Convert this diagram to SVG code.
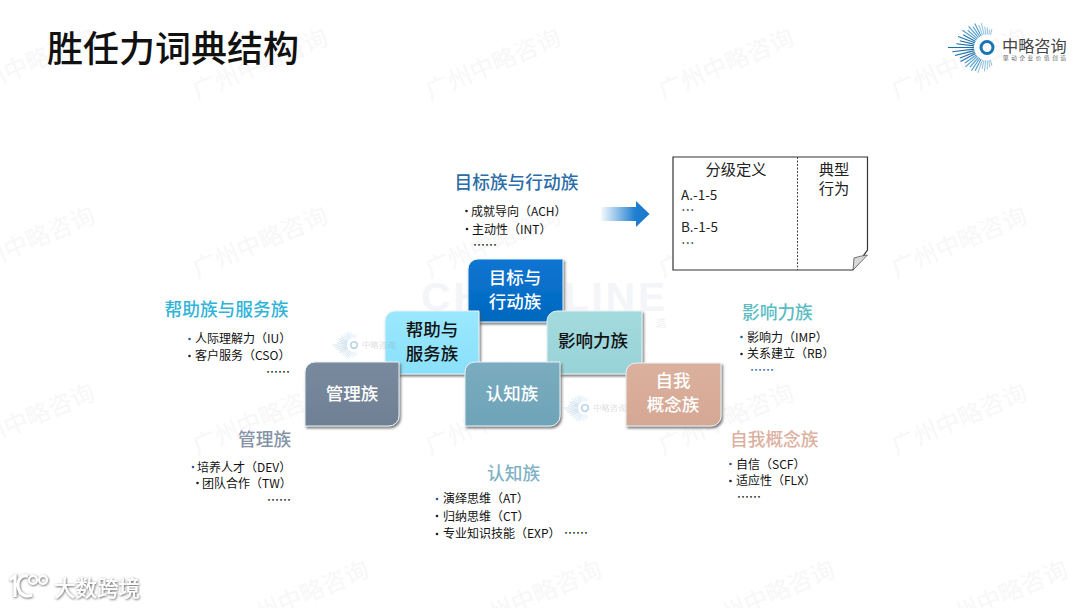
<svg xmlns="http://www.w3.org/2000/svg" xmlns:xlink="http://www.w3.org/1999/xlink" width="1080" height="608" viewBox="0 0 1080 608">
<style>
text{font-family:"Noto Sans CJK SC","Noto Sans",sans-serif}
.wm{font-size:24px;fill:#f7f7f8}
.h{font-size:17.7px;font-weight:500}
.i{font-size:12px;fill:#111}
.d{font-size:12px;fill:#222;font-weight:500}
.b{fill:#222}
.bb{fill:#2a5ba8}
.n{font-size:17.5px;font-weight:500;text-anchor:middle;filter:none}
.w{fill:#fff}
.k{fill:#111}
.box{stroke:#e8f2f6;stroke-width:1;filter:url(#sh)}
.t{font-size:15.3px;fill:#222;text-anchor:middle}
.a{font-size:13.500px;fill:#222}
.ray{stroke-width:1.1;stroke-linecap:butt}
.sm{font-size:8.400px;fill:#8a8f96}
</style>
<defs>
<filter id="sh" x="-10%" y="-10%" width="125%" height="125%"><feDropShadow dx="1.5" dy="2" stdDeviation="1" flood-color="#555" flood-opacity=".75"/></filter>
<filter id="ts" x="-10%" y="-20%" width="120%" height="150%"><feDropShadow dx="0.6" dy="0.8" stdDeviation="0.8" flood-color="#555" flood-opacity="1"/></filter>
<linearGradient id="ar" x1="0" x2="1" y1="0" y2="0"><stop offset="0" stop-color="#2a86d4" stop-opacity=".05"/><stop offset=".7" stop-color="#1f7fd0"/><stop offset="1" stop-color="#1a78c8"/></linearGradient>
<linearGradient id="g1" x1="0" x2="0" y1="0" y2="1"><stop offset="0" stop-color="#0a75d2"/><stop offset="1" stop-color="#0368bf"/></linearGradient>
<linearGradient id="g2" x1="0" x2="0" y1="0" y2="1"><stop offset="0" stop-color="#9ae8fe"/><stop offset="1" stop-color="#8ae0fa"/></linearGradient>
<linearGradient id="g3" x1="0" x2="0" y1="0" y2="1"><stop offset="0" stop-color="#a3dadd"/><stop offset="1" stop-color="#98d3d8"/></linearGradient>
<linearGradient id="g4" x1="0" x2="0" y1="0" y2="1"><stop offset="0" stop-color="#7a8a9e"/><stop offset="1" stop-color="#6f8094"/></linearGradient>
<linearGradient id="g5" x1="0" x2="0" y1="0" y2="1"><stop offset="0" stop-color="#7bacbf"/><stop offset="1" stop-color="#6ea3b8"/></linearGradient>
<linearGradient id="g6" x1="0" x2="0" y1="0" y2="1"><stop offset="0" stop-color="#dbb09e"/><stop offset="1" stop-color="#d4a893"/></linearGradient>
<g id="burst">
<g class="ray" stroke="#1d6fa8">
<line x1="-13" x2="-39" transform="rotate(0)"/><line x1="-13" x2="-31" transform="rotate(7)"/><line x1="-13" x2="-35" transform="rotate(-7)"/>
<line x1="-13" x2="-28" transform="rotate(14)"/><line x1="-13" x2="-33" transform="rotate(-14)"/><line x1="-13" x2="-31" transform="rotate(21)"/>
<line x1="-13" x2="-29" transform="rotate(-21)"/><line x1="-13" x2="-27" transform="rotate(28)"/><line x1="-13" x2="-30" transform="rotate(-28)"/>
</g>
<g class="ray" stroke="#4b9bcc">
<line x1="-13" x2="-30" transform="rotate(35)"/><line x1="-13" x2="-27" transform="rotate(-35)"/><line x1="-13" x2="-26" transform="rotate(42)"/>
<line x1="-13" x2="-29" transform="rotate(-42)"/><line x1="-13" x2="-28" transform="rotate(49)"/><line x1="-13" x2="-26" transform="rotate(-49)"/>
<line x1="-13" x2="-25" transform="rotate(56)"/><line x1="-13" x2="-28" transform="rotate(-56)"/><line x1="-13" x2="-27" transform="rotate(63)"/>
<line x1="-13" x2="-26" transform="rotate(-63)"/>
</g>
<g class="ray" stroke="#9cc6df">
<line x1="-13" x2="-24" transform="rotate(70)"/><line x1="-13" x2="-27" transform="rotate(-70)"/><line x1="-13" x2="-25" transform="rotate(77)"/>
<line x1="-13" x2="-22" transform="rotate(-77)"/><line x1="-13" x2="-21" transform="rotate(84)"/><line x1="-13" x2="-24" transform="rotate(-84)"/>
<line x1="-13" x2="-20" transform="rotate(91)"/><line x1="-13" x2="-22" transform="rotate(-91)"/><line x1="-13" x2="-18" transform="rotate(98)"/>
<line x1="-13" x2="-20" transform="rotate(-98)"/><line x1="-13" x2="-19" transform="rotate(105)"/><line x1="-13" x2="-19" transform="rotate(-105)"/>
</g>
<circle r="6" fill="none" stroke="#1874b4" stroke-width="3"/>
</g>
</defs>
<rect width="1080" height="608" fill="#fff"/>
<g id="watermarks">
<text class="wm" transform="translate(-36 100) rotate(-23)">广州中略咨询</text>
<text class="wm" transform="translate(197 100) rotate(-23)">广州中略咨询</text>
<text class="wm" transform="translate(430 100) rotate(-23)">广州中略咨询</text>
<text class="wm" transform="translate(663 100) rotate(-23)">广州中略咨询</text>
<text class="wm" transform="translate(896 100) rotate(-23)">广州中略咨询</text>
<text class="wm" transform="translate(-36 278) rotate(-23)">广州中略咨询</text>
<text class="wm" transform="translate(197 278) rotate(-23)">广州中略咨询</text>
<text class="wm" transform="translate(430 278) rotate(-23)">广州中略咨询</text>
<text class="wm" transform="translate(663 278) rotate(-23)">广州中略咨询</text>
<text class="wm" transform="translate(896 278) rotate(-23)">广州中略咨询</text>
<text class="wm" transform="translate(-36 455) rotate(-23)">广州中略咨询</text>
<text class="wm" transform="translate(197 455) rotate(-23)">广州中略咨询</text>
<text class="wm" transform="translate(430 455) rotate(-23)">广州中略咨询</text>
<text class="wm" transform="translate(663 455) rotate(-23)">广州中略咨询</text>
<text class="wm" transform="translate(896 455) rotate(-23)">广州中略咨询</text>
<text class="wm" transform="translate(238 632) rotate(-23)">广州中略咨询</text>
<text class="wm" transform="translate(471 632) rotate(-23)">广州中略咨询</text>
<text class="wm" transform="translate(704 632) rotate(-23)">广州中略咨询</text>
<text class="wm" transform="translate(937 632) rotate(-23)">广州中略咨询</text>
<text x="421" y="311" style="font-family:'Liberation Sans',sans-serif;font-size:41px;font-weight:700;fill:#f3f5f9" textLength="244">CHINALINE</text>
<text x="656" y="327" style="font-size:10px;fill:#eef0f3">造</text>
</g>
<text id="title" x="47" y="62" style="font-size:36px;font-weight:500;fill:#111">胜任力词典结构</text>
<g id="logo">
<use xlink:href="#burst" href="#burst" transform="translate(987 47.500)"/>
<text x="1002" y="52" style="font-size:16.2px;fill:#444">中略咨询</text>
<text x="1003" y="60" style="font-size:5.6px;fill:#666" textLength="63">驱动企业价值创造</text>
</g>
<g id="connectors">
<path d="M601 207H636V201L649.5 214L636 227V221H601Z" fill="url(#ar)"/>
</g>
<g id="node-target">
<path class="box" d="M478 259H563V322H468V269A10 10 0 0 1 478 259Z" fill="url(#g1)"/>
<text class="n w" x="515" y="283.500">目标与</text><text class="n w" x="515" y="307.500">行动族</text>
</g>
<g id="node-help">
<path class="box" d="M395 311H479V374H385V321A10 10 0 0 1 395 311Z" fill="url(#g2)"/>
<text class="n k" x="432" y="336">帮助与</text><text class="n k" x="432" y="360">服务族</text>
</g>
<g id="node-influence">
<path class="box" d="M557 311H642V374H547V321A10 10 0 0 1 557 311Z" fill="url(#g3)"/>
<text class="n k" x="593" y="347">影响力族</text>
</g>
<g id="small-mark-1" opacity=".3"><use xlink:href="#burst" href="#burst" transform="translate(354 345) scale(.55)"/><text class="sm" x="362" y="348">中略咨询</text></g>
<g id="small-mark-2" opacity=".3"><use xlink:href="#burst" href="#burst" transform="translate(585 408) scale(.55)"/><text class="sm" x="593" y="411">中略咨询</text></g>
<g id="node-manage">
<path class="box" d="M315 362H399V416A10 10 0 0 1 389 426H305V372A10 10 0 0 1 315 362Z" fill="url(#g4)"/>
<text class="n w" x="352" y="400">管理族</text>
</g>
<g id="node-cognitive">
<path class="box" d="M475 362H560V416A10 10 0 0 1 550 426H465V372A10 10 0 0 1 475 362Z" fill="url(#g5)"/>
<text class="n w" x="512" y="400">认知族</text>
</g>
<g id="node-self">
<path class="box" d="M636 363H721V416A10 10 0 0 1 711 426H626V373A10 10 0 0 1 636 363Z" fill="url(#g6)"/>
<text class="n w" x="673" y="387">自我</text><text class="n w" x="673" y="411">概念族</text>
</g>
<g id="group-target">
<text class="h" x="454.500" y="189" fill="#2b6ca8">目标族与行动族</text>
<circle class="b" cx="466.500" cy="211" r="1.300"/><text class="i" x="471" y="216">成就导向（ACH）</text>
<circle class="b" cx="467" cy="229" r="1.300"/><text class="i" x="472" y="234">主动性（INT）</text>
<text class="d" x="473" y="250">……</text>
</g>
<g id="group-help">
<text class="h" x="164.500" y="316" fill="#2fb4d8">帮助族与服务族</text>
<circle class="bb" cx="189.500" cy="339" r="1.300"/><text class="i" x="195" y="343">人际理解力（IU）</text>
<circle class="b" cx="189.500" cy="356" r="1.300"/><text class="i" x="195" y="360">客户服务（CSO）</text>
<text class="d" x="266" y="377">……</text>
</g>
<g id="group-manage">
<text class="h" x="238" y="446" fill="#8492a6">管理族</text>
<circle class="bb" cx="193" cy="467" r="1.300"/><text class="i" x="197" y="471.500">培养人才（DEV）</text>
<circle class="b" cx="197.500" cy="483" r="1.300"/><text class="i" x="202" y="488">团队合作（TW）</text>
<text class="d" x="267" y="505">……</text>
</g>
<g id="group-cognitive">
<text class="h" x="487" y="480" fill="#7fb2c6">认知族</text>
<circle class="bb" cx="437" cy="499" r="1.300"/><text class="i" x="443" y="503">演绎思维（AT）</text>
<circle class="b" cx="437" cy="516" r="1.300"/><text class="i" x="443" y="521">归纳思维（CT）</text>
<circle class="b" cx="437" cy="534" r="1.300"/><text class="i" x="443" y="538">专业知识技能（EXP）</text>
<text class="d" x="564" y="538">……</text>
</g>
<g id="group-influence">
<text class="h" x="742" y="319" fill="#5bbcc4">影响力族</text>
<circle class="bb" cx="741.500" cy="337" r="1.300"/><text class="i" x="747" y="342">影响力（IMP）</text>
<circle class="b" cx="741.500" cy="354" r="1.300"/><text class="i" x="747" y="358">关系建立（RB）</text>
<text class="d" x="750" y="375" style="fill:#2a5ba8">……</text>
</g>
<g id="group-self">
<text class="h" x="730" y="446" fill="#dcb0a0">自我概念族</text>
<circle class="bb" cx="730.500" cy="464" r="1.300"/><text class="i" x="736" y="469">自信（SCF）</text>
<circle class="b" cx="730.500" cy="481" r="1.300"/><text class="i" x="736" y="485">适应性（FLX）</text>
<text class="d" x="737" y="502">……</text>
</g>
<g id="doc">
<path d="M673 157H867.500V250L853 270H673Z" fill="#fff" stroke="#333" stroke-width="1.200"/>
<path d="M867.500 255Q860 256 854 258L853 270Z" fill="#d8d8d8" stroke="#555" stroke-width=".8"/>
<line x1="797.500" y1="157" x2="797.500" y2="270" stroke="#444" stroke-width="1" stroke-dasharray="2 1.500"/>
<text class="t" x="736" y="175">分级定义</text>
<text class="t" x="834" y="175">典型</text><text class="t" x="834" y="194">行为</text>
<text class="a" x="681" y="200">A.-1-5</text><text class="a" x="681" y="215">…</text>
<text class="a" x="681" y="232">B.-1-5</text><text class="a" x="681" y="248">…</text>
</g>
<g id="source-mark" filter="url(#ts)">
<path d="M10 580L15 576V597M28 576C20 574 16 582 19 590C21 596 27 597 32 595" fill="none" stroke="#fff" stroke-width="3"/>
<circle cx="33" cy="580" r="4" fill="none" stroke="#fff" stroke-width="2"/>
<circle cx="43" cy="580" r="4" fill="none" stroke="#fff" stroke-width="2"/>
<text x="54" y="596" style="font-size:21.500px;fill:#fff;font-weight:500">大数跨境</text>
</g>
</svg>
